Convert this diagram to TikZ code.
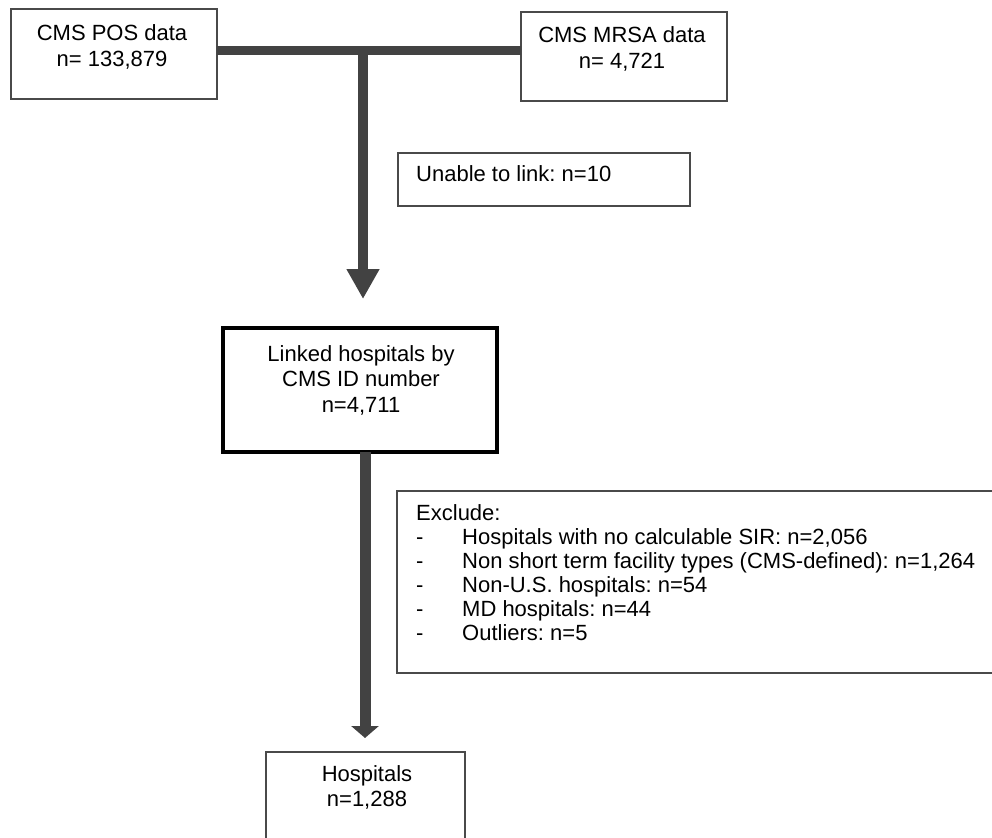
\documentclass[tikz,border=0pt]{standalone}
\usepackage{fontspec}
\setmainfont{Liberation Sans}
\frenchspacing
\usetikzlibrary{arrows.meta}
\definecolor{boxgray}{HTML}{4A4A4A}
\definecolor{arrgray}{HTML}{424242}
\begin{document}
\frenchspacing
\begin{tikzpicture}[x=1pt,y=-1pt,
  box/.style={draw=boxgray, line width=1.6pt, rectangle, inner sep=0pt, outer sep=0pt, anchor=north west},
  mainbox/.style={draw=black, line width=3.5pt, rectangle, inner sep=0pt, outer sep=0pt, anchor=north west},
  txt/.style={font=\fontsize{22pt}{26.5pt}\selectfont, align=center, inner sep=0pt, anchor=base},
  ltxt/.style={font=\fontsize{22pt}{24pt}\selectfont, align=left, inner sep=0pt, anchor=base west},
  bar/.style={draw=arrgray, line width=9pt, line cap=butt},
  shaft/.style={draw=arrgray, line width=#1, line cap=butt}
]
\useasboundingbox (0,0) rectangle (992,837);
% boxes
\node[box, minimum width=206pt, minimum height=90pt] (pos) at (11,9) {};
\node[box, minimum width=206pt, minimum height=89pt] (mrsa) at (521,12) {};
\node[box, minimum width=292pt, minimum height=53pt] (unable) at (398,153) {};
\node[mainbox, minimum width=274pt, minimum height=124pt] (linked) at (223,328) {};
\node[box, minimum width=610pt, minimum height=182pt] (excl) at (397,491) {};
\node[box, minimum width=199pt, minimum height=110pt] (hosp) at (266,752) {};
% texts (anchor = baseline of the last line)
\node[txt] (posT) at (112,67) {CMS POS data\\n= 133,879};
\node[txt] (mrsaT) at (622,69) {CMS MRSA data\\n= 4,721};
\node[ltxt] (unableT) at (416,182) {Unable to link: n=10};
\node[txt, font=\fontsize{22pt}{25.5pt}\selectfont] (linkedT) at (361,412) {Linked hospitals by\\CMS ID number\\n=4,711};
\node[ltxt] (exclT) at (416,640) {Exclude:\\
\makebox[46pt][l]{-}Hospitals with no calculable SIR: n=2,056\\
\makebox[46pt][l]{-}Non short term facility types (CMS-defined): n=1,264\\
\makebox[46pt][l]{-}Non-U.S. hospitals: n=54\\
\makebox[46pt][l]{-}MD hospitals: n=44\\
\makebox[46pt][l]{-}Outliers: n=5};
\node[txt, font=\fontsize{22pt}{24.5pt}\selectfont] (hospT) at (367,806) {Hospitals\\n=1,288};
% connectors
\coordinate (j) at (363,51);
\coordinate (tip1) at (363,299);
\coordinate (tip2) at (365,738);
\draw[bar] (pos.east |- j) -- (mrsa.west |- j);
\draw[shaft=10pt, -{Triangle[width=31pt,length=30pt]}, arrgray] (363,47) -- (tip1);
\draw[shaft=11pt, -{Triangle[width=27pt,length=12pt]}, arrgray] (linked.south -| tip2) -- (tip2);
\end{tikzpicture}
\end{document}
